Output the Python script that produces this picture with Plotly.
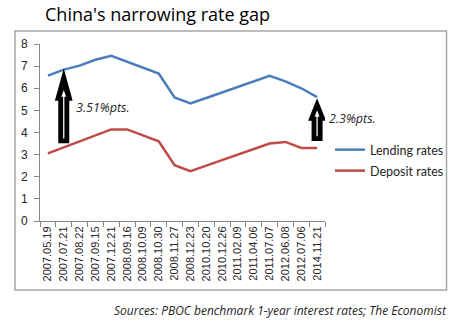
import plotly.graph_objects as go

# PBOC benchmark 1-year rates at each adjustment date
dates = ["2007.05.19", "2007.07.21", "2007.08.22", "2007.09.15", "2007.12.21",
         "2008.09.16", "2008.10.09", "2008.10.30", "2008.11.27", "2008.12.23",
         "2010.10.20", "2010.12.26", "2011.02.09", "2011.04.06", "2011.07.07",
         "2012.06.08", "2012.07.06", "2014.11.21"]
lending = [6.57, 6.84, 7.02, 7.29, 7.47, 7.20, 6.93, 6.66, 5.58, 5.31,
           5.56, 5.81, 6.06, 6.31, 6.56, 6.31, 6.00, 5.60]
deposit = [3.06, 3.33, 3.60, 3.87, 4.14, 4.14, 3.87, 3.60, 2.52, 2.25,
           2.50, 2.75, 3.00, 3.25, 3.50, 3.575, 3.30, 3.30]

# spread callouts: category index, label, label height
gap_idx = [1, 17]
gap_labels = ["3.51%pts.", "2.3%pts."]
gap_label_y = [5.15, 4.65]

W, H = 463, 326
ML, MR, MT, MB = 40, 138, 44, 105
PW, PH = W - ML - MR, H - MT - MB

def px(x):
    return (x - ML) / PW

def py(y):
    return (H - MB - y) / PH

BLUE = "#4A7EBB"
RED = "#BE4B48"
xs = list(range(len(dates)))

fig = go.Figure()
fig.add_trace(go.Scatter(x=xs, y=lending, mode="lines", name="Lending rates",
                         line=dict(color=BLUE, width=2.5), legend="legend"))
fig.add_trace(go.Scatter(x=xs, y=deposit, mode="lines", name="Deposit rates",
                         line=dict(color=RED, width=2.5), legend="legend2"))

shapes = []
annotations = []

# outer chart frame
shapes.append(dict(type="rect", xref="paper", yref="paper",
                   x0=px(15), x1=px(446.5), y0=py(290), y1=py(31),
                   line=dict(color="#A6A6A6", width=1.5), layer="below"))

# block arrows spanning the gap between the two rates
arrow_style = {1: dict(lo=0.22, hi=0.07, head=1.3),
               17: dict(lo=0.35, hi=0.14, head=0.9)}
for i, label, ly in zip(gap_idx, gap_labels, gap_label_y):
    st = arrow_style[i]
    lo = deposit[i] + st["lo"]
    hi = lending[i] - st["hi"]
    neck = hi - st["head"]
    hw, sw = 0.5, 0.3
    outer = (f"M {i - sw} {lo} L {i - sw} {neck} L {i - hw} {neck} "
             f"L {i} {hi} L {i + hw} {neck} L {i + sw} {neck} "
             f"L {i + sw} {lo} Z")
    shapes.append(dict(type="path", xref="x", yref="y", path=outer,
                       fillcolor="black", line=dict(color="black", width=1.5)))
    iw, ihw = 0.04, 0.15
    ibot = lo + 0.18
    tip = hi - (0.85 if i == 1 else 0.45)
    ineck = tip - 0.3
    inner = (f"M {i - iw} {ibot} L {i - iw} {ineck} L {i - ihw} {ineck} "
             f"L {i} {tip} L {i + ihw} {ineck} L {i + iw} {ineck} "
             f"L {i + iw} {ibot} Z")
    shapes.append(dict(type="path", xref="x", yref="y", path=inner,
                       fillcolor="white", line=dict(width=0)))
    annotations.append(dict(x=i, y=ly, xref="x", yref="y", xshift=10,
                            text=label, showarrow=False,
                            xanchor="left", yanchor="middle",
                            font=dict(family="Open Sans", size=12.5, color="#262626",
                                      style="italic")))

annotations.append(dict(x=px(449), y=py(310), xref="paper", yref="paper",
                        text="Sources: PBOC benchmark 1-year interest rates; The Economist",
                        showarrow=False, xanchor="right", yanchor="middle",
                        font=dict(family="Open Sans", size=12, color="#262626",
                                  style="italic")))

legend_common = dict(xanchor="left", yanchor="middle", bgcolor="rgba(0,0,0,0)",
                     font=dict(family="Lato", size=12.5, color="#262626"))

fig.update_layout(
    width=W, height=H,
    margin=dict(l=ML, r=MR, t=MT, b=MB, autoexpand=False),
    paper_bgcolor="white", plot_bgcolor="white",
    title=dict(text="China's narrowing rate gap", x=45 / W, xanchor="left",
               xref="container", y=1 - 15 / H, yref="container", yanchor="middle",
               font=dict(family="Open Sans", size=18, color="black")),
    showlegend=True,
    legend=dict(x=px(330), y=py(150), **legend_common),
    legend2=dict(x=px(330), y=py(171), **legend_common),
    shapes=shapes,
    annotations=annotations,
    xaxis=dict(range=[-0.5, len(dates) - 0.5], tickmode="array", tickvals=xs,
               ticktext=dates, tickangle=-90, ticks="", showgrid=False,
               zeroline=False, showline=True, linecolor="#868686", linewidth=1,
               tickfont=dict(family="Liberation Sans", size=11, color="#262626"),
               minor=dict(tick0=-0.5, dtick=1, ticks="outside", ticklen=5,
                          tickcolor="#868686", showgrid=False)),
    yaxis=dict(range=[0, 8], dtick=1, ticks="outside", ticklen=5,
               tickcolor="#868686", showgrid=False, zeroline=False,
               showline=True, linecolor="#868686", linewidth=1,
               ticklabelstandoff=4,
               tickfont=dict(family="Liberation Sans", size=12, color="#262626")),
)

fig.write_html("out.html")
